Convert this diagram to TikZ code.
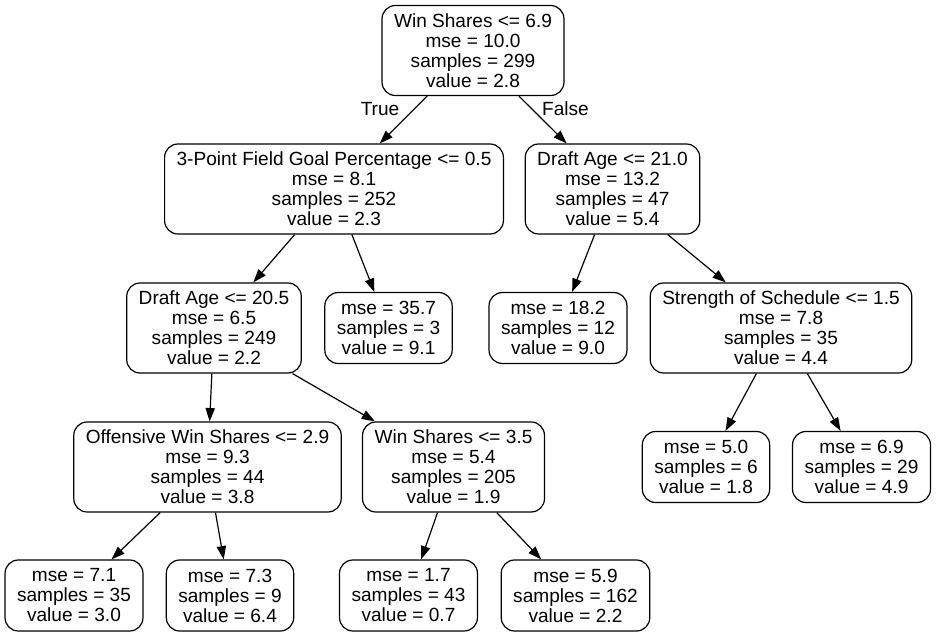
\documentclass[tikz,border=0pt]{standalone}
\usepackage{fontspec}
\setmainfont{Liberation Sans}
\usetikzlibrary{arrows.meta}
\begin{document}
\begin{tikzpicture}[x=0.75pt,y=-0.75pt,
        split/.style={shape=rectangle,draw=black,rounded corners=10pt,align=center,
            inner xsep=9pt,minimum height=67.5pt,line width=0.9pt,font=\fontsize{14.3}{15}\selectfont},
        leaf/.style={split,minimum height=53.25pt},
        arr/.style={draw=black,line width=0.9pt,-{Triangle[length=10pt,width=7pt]}}]
            \useasboundingbox (0,0) rectangle (936,636);
            \node[split] (A) at (473,50.5)  {Win Shares <= 6.9\\mse = 10.0\\samples = 299\\value = 2.8};
            \node[split] (B) at (334,189)   {3-Point Field Goal Percentage <= 0.5\\mse = 8.1\\samples = 252\\value = 2.3};
            \node[split] (C) at (612.5,189) {Draft Age <= 21.0\\mse = 13.2\\samples = 47\\value = 5.4};
            \node[split] (D) at (214,328)   {Draft Age <= 20.5\\mse = 6.5\\samples = 249\\value = 2.2};
            \node[leaf]  (E) at (388.5,328) {mse = 35.7\\samples = 3\\value = 9.1};
            \node[leaf]  (F) at (558,328)   {mse = 18.2\\samples = 12\\value = 9.0};
            \node[split] (G) at (781,328)   {Strength of Schedule <= 1.5\\mse = 7.8\\samples = 35\\value = 4.4};
            \node[split] (H) at (207.5,467) {Offensive Win Shares <= 2.9\\mse = 9.3\\samples = 44\\value = 3.8};
            \node[split] (I) at (453.5,467) {Win Shares <= 3.5\\mse = 5.4\\samples = 205\\value = 1.9};
            \node[leaf]  (J) at (706,467)   {mse = 5.0\\samples = 6\\value = 1.8};
            \node[leaf]  (K) at (861.5,467) {mse = 6.9\\samples = 29\\value = 4.9};
            \node[leaf]  (L) at (74,595.5)  {mse = 7.1\\samples = 35\\value = 3.0};
            \node[leaf]  (M) at (230,595.5) {mse = 7.3\\samples = 9\\value = 6.4};
            \node[leaf]  (N) at (408.5,595.5) {mse = 1.7\\samples = 43\\value = 0.7};
            \node[leaf]  (O) at (575.5,595.5) {mse = 5.9\\samples = 162\\value = 2.2};

            \node[font=\fontsize{14.3}{15}\selectfont] (T) at (380,109) {True};
            \node[font=\fontsize{14.3}{15}\selectfont] (Fa) at (565.5,109) {False};

            \path[arr] (A) edge (B);
            \path[arr] (A) edge (C);
            \path[arr] (B) edge (D);
            \path[arr] (B) edge (E);
            \path[arr] (C) edge (F);
            \path[arr] (C) edge (G);
            \path[arr] (D) edge (H);
            \path[arr] (D) edge (I);
            \path[arr] (G) edge (J);
            \path[arr] (G) edge (K);
            \path[arr] (H) edge (L);
            \path[arr] (H) edge (M);
            \path[arr] (I) edge (N);
            \path[arr] (I) edge (O);
        \end{tikzpicture}
\end{document}
